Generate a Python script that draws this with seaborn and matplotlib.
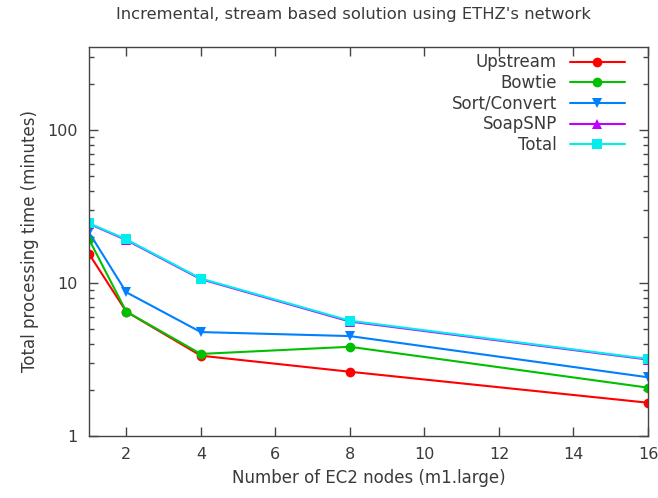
import pandas as pd
import matplotlib
matplotlib.use('Agg')
import matplotlib.pyplot as plt
import matplotlib.ticker as mticker
import seaborn as sns

# values (minutes)
nodes = [1, 2, 4, 8, 16]
upstream = [15.5, 6.5, 3.35, 2.63, 1.65]
bowtie = [19.3, 6.5, 3.44, 3.83, 2.07]
sort_convert = [21.4, 8.7, 4.78, 4.5, 2.42]
soapsnp = [24.4, 19.1, 10.6, 5.6, 3.16]
total = [24.6, 19.3, 10.7, 5.67, 3.19]

series_names = ['Upstream', 'Bowtie', 'Sort/Convert', 'SoapSNP', 'Total']
series_values = [upstream, bowtie, sort_convert, soapsnp, total]
colors = ['#ff0000', '#00c000', '#0080ff', '#c000ff', '#00eeee']
markers = ['o', 'o', 'v', '^', 's']

rows = []
for name, vals in zip(series_names, series_values):
    for n, v in zip(nodes, vals):
        rows.append({'nodes': n, 'time': v, 'series': name})
df = pd.DataFrame(rows)

sns.set_theme(style='ticks')
plt.rcParams['font.family'] = ['DejaVu Sans']
text_col = '#3a3a3a'
frame_col = '#444444'

fig = plt.figure(figsize=(6.58, 4.98), dpi=100)
ax = fig.add_axes([0.1353, 0.1245, 0.8495, 0.7815])

sns.lineplot(data=df, x='nodes', y='time', hue='series', style='series',
             hue_order=series_names, style_order=series_names,
             palette=dict(zip(series_names, colors)),
             markers=dict(zip(series_names, markers)), dashes=False,
             linewidth=1.5, markersize=7, markeredgewidth=0, ax=ax)

ax.set_yscale('log')
ax.set_xlim(1, 16)
ax.set_ylim(1, 350)
ax.set_xticks([2, 4, 6, 8, 10, 12, 14, 16])
ax.yaxis.set_major_locator(mticker.FixedLocator([1, 10, 100]))
ax.yaxis.set_major_formatter(mticker.FuncFormatter(lambda v, p: f'{v:g}'))
ax.yaxis.set_minor_locator(mticker.LogLocator(base=10, subs=range(2, 10)))
ax.yaxis.set_minor_formatter(mticker.NullFormatter())

ax.tick_params(which='both', direction='in', top=True, right=True,
               colors=frame_col, labelcolor=text_col, labelsize=11.5)
ax.tick_params(which='major', length=6.5, width=1)
ax.tick_params(which='minor', length=3.5, width=1)
ax.tick_params(axis='x', pad=8)
ax.tick_params(axis='y', pad=8)
for s in ax.spines.values():
    s.set_color(frame_col)
    s.set_linewidth(1)

ax.set_xlabel('Number of EC2 nodes (m1.large)', fontsize=12, color=text_col, labelpad=5)
ax.set_ylabel('Total processing time (minutes)', fontsize=12, color=text_col, labelpad=6)
fig.text(0.537, 0.985, "Incremental, stream based solution using ETHZ's network",
         fontsize=11.8, color=text_col, ha='center', va='top')

handles, labels = ax.get_legend_handles_labels()
leg = ax.legend(handles, labels, loc='upper right', frameon=False, markerfirst=False,
                fontsize=12, handlelength=3.3, labelspacing=0.16, handletextpad=0.75,
                borderaxespad=0.2, borderpad=0.2, labelcolor=text_col,
                bbox_to_anchor=(0.97, 1.0))

fig.savefig('out.png', dpi=100)
